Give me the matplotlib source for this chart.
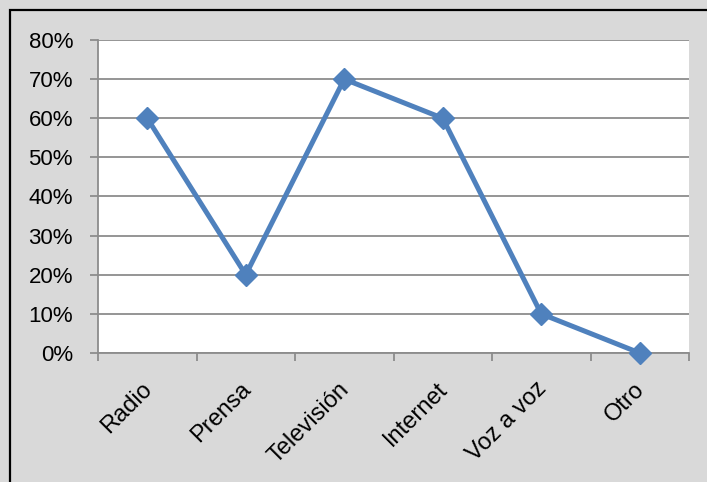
import matplotlib
matplotlib.use("Agg")
import matplotlib.pyplot as plt
from matplotlib.patches import Rectangle
from matplotlib.ticker import FixedLocator, PercentFormatter
from matplotlib.transforms import ScaledTranslation

categories = ["Radio", "Prensa", "Televisión", "Internet", "Voz a voz", "Otro"]
values = [60, 20, 70, 60, 10, 0]
y_ticks = [0, 10, 20, 30, 40, 50, 60, 70, 80]

W, H = 707, 482
fig = plt.figure(figsize=(W / 100, H / 100), dpi=100)
fig.patch.set_facecolor("#D9D9D9")
plt.rcParams["font.family"] = ["Liberation Sans", "DejaVu Sans"]

# chart frame (top and left edges visible)
fig.patches.append(Rectangle((10 / W, -0.1), 1.2, 1 - 10 / H + 0.1, transform=fig.transFigure,
                             fill=False, edgecolor="#000000", linewidth=1.6, zorder=10))

ax = fig.add_axes([98 / W, (H - 353) / H, (689 - 98) / W, (353 - 40) / H])
ax.set_facecolor("white")

x = list(range(len(categories)))
ax.plot(x, values, color="#4F81BD", linewidth=3.6, marker="D", markersize=11,
        markerfacecolor="#4F81BD", markeredgecolor="#4F81BD", zorder=3, clip_on=False)

ax.set_xlim(-0.5, len(categories) - 0.5)
ax.set_ylim(0, 80)
ax.set_yticks(y_ticks)
ax.yaxis.set_major_formatter(PercentFormatter(decimals=0))
ax.grid(axis="y", color="#8C8C8C", linewidth=1.3)
ax.set_axisbelow(True)

ax.xaxis.set_major_locator(FixedLocator([i - 0.5 for i in range(len(categories) + 1)]))
ax.set_xticklabels([])
ax.xaxis.set_minor_locator(FixedLocator(x))
ax.set_xticklabels(categories, minor=True, rotation=45, ha="right",
                   rotation_mode="anchor", fontsize=17)
ax.tick_params(axis="x", which="minor", length=0, pad=18)
ax.tick_params(axis="x", which="major", length=6, width=1.3, color="#8C8C8C")
ax.tick_params(axis="y", length=6, width=1.3, color="#8C8C8C", labelsize=16, pad=12)

# nudge the category labels slightly to the left
shift = ScaledTranslation(-6 / 100, 0, fig.dpi_scale_trans)
for tick in ax.xaxis.get_minor_ticks():
    tick.label1.set_transform(tick.label1.get_transform() + shift)

for s in ["top", "right"]:
    ax.spines[s].set_visible(False)
for s in ["left", "bottom"]:
    ax.spines[s].set_color("#8C8C8C")
    ax.spines[s].set_linewidth(1.3)

fig.savefig("out.png", dpi=100, facecolor=fig.get_facecolor())
